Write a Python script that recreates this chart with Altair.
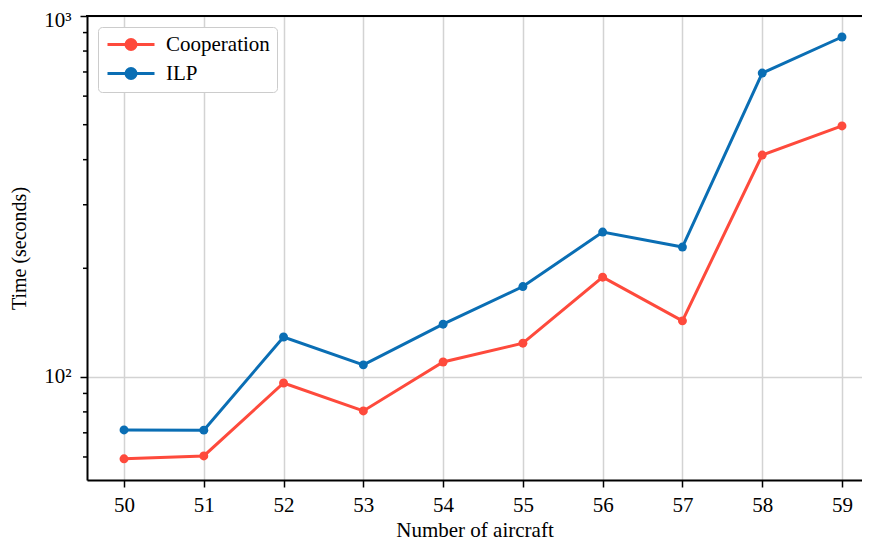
import altair as alt
import pandas as pd

aircraft = [50, 51, 52, 53, 54, 55, 56, 57, 58, 59]
cooperation = [59.3, 60.4, 96.2, 80.5, 110, 124, 189, 143, 412, 496]
ilp = [71.3, 71.2, 129, 108, 140, 178, 252, 229, 695, 875]
series_names = ["Cooperation", "ILP"]
series_colors = ["#fe4a3c", "#0a6eb4"]
minor_ticks = [60, 70, 80, 90, 200, 300, 400, 500, 600, 700, 800, 900]

rows = []
for a, c, i in zip(aircraft, cooperation, ilp):
    rows.append({"aircraft": a, "time": c, "method": "Cooperation"})
    rows.append({"aircraft": a, "time": i, "method": "ILP"})
df = pd.DataFrame(rows)
minor_df = pd.DataFrame({"v": minor_ticks})
one_df = pd.DataFrame({"k": [0]})

FONT = "Liberation Serif"
W, H = 775, 464

xscale = alt.Scale(domain=[49.536, 59.251], nice=False, zero=False)
yscale = alt.Scale(type="log", domain=[51.8, 1000.5], nice=False)

# line + circle legend glyph (unit = sqrt(size)/2 px)
legend_path = ("M-1,0L4.875,0M1.3125,0A0.625,0.625 0 1,0 2.5625,0"
               "A0.625,0.625 0 1,0 1.3125,0Z")

color = alt.Color(
    "method:N",
    scale=alt.Scale(domain=series_names, range=series_colors),
    title=None,
    legend=alt.Legend(
        orient="top-left", offset=11, symbolType=legend_path, symbolSize=256,
        symbolStrokeWidth=3, labelFont=FONT, labelFontSize=21, labelLimit=300,
        labelOffset=40, rowPadding=6, padding=7, strokeColor="#cccccc",
        fillColor="white", cornerRadius=4, symbolOpacity=1, labelColor="black",
    ),
)

base = alt.Chart(df).encode(
    x=alt.X("aircraft:Q", scale=xscale,
            axis=alt.Axis(values=aircraft, format="d", title="Number of aircraft",
                          grid=True, gridColor="#d3d3d3", gridWidth=1.5,
                          tickSize=7, tickWidth=1.5, tickColor="black",
                          domainColor="black", domainWidth=2,
                          labelFont=FONT, labelFontSize=21, labelColor="black",
                          labelPadding=7, titleFont=FONT, titleFontSize=21,
                          titleFontWeight="normal", titlePadding=4, titleColor="black")),
    y=alt.Y("time:Q", scale=yscale,
            axis=alt.Axis(values=[100, 1000],
                          labelExpr="datum.value == 100 ? '10²' : '10³'",
                          labelOffset={"condition": {"test": "datum.value == 1000", "value": 4},
                                       "value": 0},
                          title="Time (seconds)", grid=True, gridColor="#d3d3d3",
                          gridWidth=1.5, tickSize=7, tickWidth=1.5, tickColor="black",
                          domainColor="black", domainWidth=2,
                          labelFont=FONT, labelFontSize=21, labelColor="black",
                          labelPadding=9, titleFont=FONT, titleFontSize=20,
                          titleFontWeight="normal", titlePadding=14, titleColor="black")),
    color=color,
)

lines = base.mark_line(strokeWidth=3)
points = base.mark_circle(size=80, opacity=1)

minor = alt.Chart(minor_df).mark_rule(color="black", strokeWidth=1.5).encode(
    y=alt.Y("v:Q", scale=yscale),
    x=alt.value(-4),
    x2=alt.value(0),
)

top_spine = alt.Chart(one_df).mark_rule(color="black", strokeWidth=2).encode(
    y=alt.value(0), x=alt.value(-1), x2=alt.value(W + 10),
)

chart = alt.layer(lines, points, minor, top_spine).properties(
    width=W, height=H,
    autosize=alt.AutoSizeParams(type="none"),
    padding={"left": 79, "top": 8, "right": 0, "bottom": 62},
).configure_view(stroke="transparent").configure(background="white")

chart.save("out.html", embed_options={"renderer": "svg", "actions": False})
